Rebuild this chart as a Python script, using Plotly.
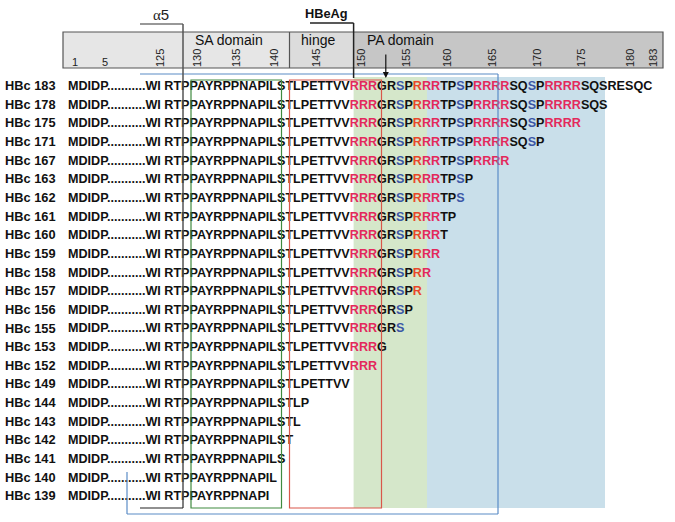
import plotly.graph_objects as go

# ---------------- data ----------------
construct_ends = [183, 178, 175, 171, 167, 163, 162, 161, 160, 159, 158, 157,
                  156, 155, 153, 152, 149, 144, 143, 142, 141, 140, 139]
construct_prefix = "HBc"
n_terminal = "MDIDP"
n_gap_dots = 11
pre_core = "WI"
core_start = 127
core_seq = "RTPPAYRPPNAPILSTLPETTVVRRRGRSPRRRTPSPRRRRSQSPRRRRSQSRESQC"  # residues 127-183
pink_residues = [150, 151, 152, 158, 159, 164, 165, 166, 167, 172, 173, 174, 175]
orange_residues = [157]
blue_residues = [155, 162, 170]
ruler_labels = ["1", "5", "125", "130", "135", "140", "145", "150", "155",
                "160", "165", "170", "175", "180", "183"]
domain_labels = ["SA domain", "hinge", "PA domain"]

# ---------------- style / layout helpers ----------------
W, H = 675, 522
ROW0_PX, ROW_H = 87.0, 18.64
PINK, ORANGE, BLUE_S = "#e3295c", "#e8472b", "#3b56a6"
FONT = "Liberation Sans"
SEQ_SIZE = 12.6


def Y(px):
    return (px - ROW0_PX) / ROW_H


def colored(aa, resno):
    if resno in pink_residues:
        return f"<span style='color:{PINK}'>{aa}</span>"
    if resno in orange_residues:
        return f"<span style='color:{ORANGE}'>{aa}</span>"
    if resno in blue_residues:
        return f"<span style='color:{BLUE_S}'>{aa}</span>"
    return aa


def row_text(end):
    s = n_terminal + "." * n_gap_dots + pre_core + " "
    for k, aa in enumerate(core_seq[: end - core_start + 1]):
        s += colored(aa, core_start + k)
    return s


rows = list(range(len(construct_ends)))
row_labels = [f"{construct_prefix} {e}" for e in construct_ends]
row_texts = [row_text(e) for e in construct_ends]

fig = go.Figure()
fig.add_trace(go.Scatter(
    x=[5] * len(rows), y=rows, mode="text", text=row_labels,
    textposition="middle right", hoverinfo="skip", cliponaxis=False,
    textfont=dict(family=FONT, size=12.8, color="#111111", weight="bold")))
fig.add_trace(go.Scatter(
    x=[68] * len(rows), y=rows, mode="text", text=row_texts,
    textposition="middle right", hoverinfo="skip", cliponaxis=False,
    textfont=dict(family=FONT, size=SEQ_SIZE, color="#111111", weight="bold")))

shapes = []


def rect(x0, x1, y0, y1, fill="rgba(0,0,0,0)", line=None, width=0, layer="below"):
    shapes.append(dict(type="rect", xref="x", yref="y", x0=x0, x1=x1,
                       y0=Y(y0), y1=Y(y1), fillcolor=fill, layer=layer,
                       line=dict(color=line or "rgba(0,0,0,0)", width=width)))


def line(x0, y0, x1, y1, color, width=1.2, layer="above"):
    shapes.append(dict(type="line", xref="x", yref="y", x0=x0, x1=x1,
                       y0=Y(y0), y1=Y(y1), layer=layer,
                       line=dict(color=color, width=width)))


# positions of boundaries (pixels)
X_A5 = 183
X_SA_L, X_SA_R = 191, 281.5
X_HI_L, X_HI_R = 289.5, 381.5
X_PA = 353.6
X_GREEN_END = 427
X_BLUE_END = 605
X_BLUEBOX_R = 498

# ruler header
rect(63, X_HI_L, 32, 68, fill="#e6e6e6")
rect(X_HI_L, X_PA, 32, 68, fill="#dcdcdc")
rect(X_PA, 663, 32, 68, fill="#c6c6c6")
rect(63, 663, 32, 68, line="#555555", width=1.2)
line(X_HI_L, 32, X_HI_L, 68, "#555555", 1.2, layer="below")

# shaded PA regions
rect(X_PA, X_GREEN_END, 77, 508, fill="#d5e7ca")
rect(X_GREEN_END, X_BLUE_END, 77, 508, fill="#c9dfea")

# boxes
rect(X_SA_L, X_SA_R, 80, 508, line="#3f8a3f", width=1.2, layer="above")
rect(X_HI_L, X_HI_R, 80, 508, line="#d9574a", width=1.2, layer="above")
# blue box (partly visible)
line(140, 74, X_BLUEBOX_R, 74, "#5b8cc6")
line(X_BLUEBOX_R, 74, X_BLUEBOX_R, 514, "#5b8cc6")
line(127, 514, X_BLUEBOX_R, 514, "#5b8cc6")
line(127, 472, 127, 514, "#5b8cc6")

# alpha5 bracket
line(140, 24, X_A5, 24, "#333333")
line(X_A5, 24, X_A5, 508, "#555555", 1.5)
line(140, 508, X_A5, 508, "#222222")
# HBeAg bracket
line(310, 23, X_PA, 23, "#222222", 1.5)
line(X_PA, 23, X_PA, 78, "#222222", 1.5)

ann = []
ann.append(dict(x=161, y=Y(14), text="<span style='font-family:Liberation Serif'>α</span>5",
                showarrow=False, font=dict(family=FONT, size=15, color="#222222")))
ann.append(dict(x=326, y=Y(13), text="<b>HBeAg</b>", showarrow=False,
                font=dict(family=FONT, size=12.8, color="#111111")))
for lab, xc in zip(domain_labels, [229, 318, 400]):
    ann.append(dict(x=xc, y=Y(40), text=lab, showarrow=False,
                    font=dict(family=FONT, size=14, color="#111111")))
ruler_x = [75, 105, 160, 197, 236, 274, 316, 361, 406, 447, 492, 537, 581, 630, 653]
for lab, xc in zip(ruler_labels, ruler_x):
    rot = 0 if len(lab) == 1 else -90
    ann.append(dict(x=xc, y=Y(62 if rot == 0 else 58), text=lab, showarrow=False,
                    textangle=rot, font=dict(family=FONT, size=11, color="#222222")))
# arrow to G153
ann.append(dict(x=385.8, y=Y(78), ax=0, ay=-25, text="", showarrow=True,
                arrowhead=2, arrowsize=1, arrowwidth=1.2, arrowcolor="#111111"))

fig.update_layout(
    width=W, height=H, margin=dict(l=0, r=0, t=0, b=0),
    paper_bgcolor="white", plot_bgcolor="white", showlegend=False,
    xaxis=dict(range=[0, W], visible=False, fixedrange=True),
    yaxis=dict(range=[Y(H), Y(0)], visible=False, fixedrange=True),
    shapes=shapes, annotations=ann)

fig.write_html("out.html", config={"displayModeBar": False},
               post_script="document.body.style.margin='0px';")
